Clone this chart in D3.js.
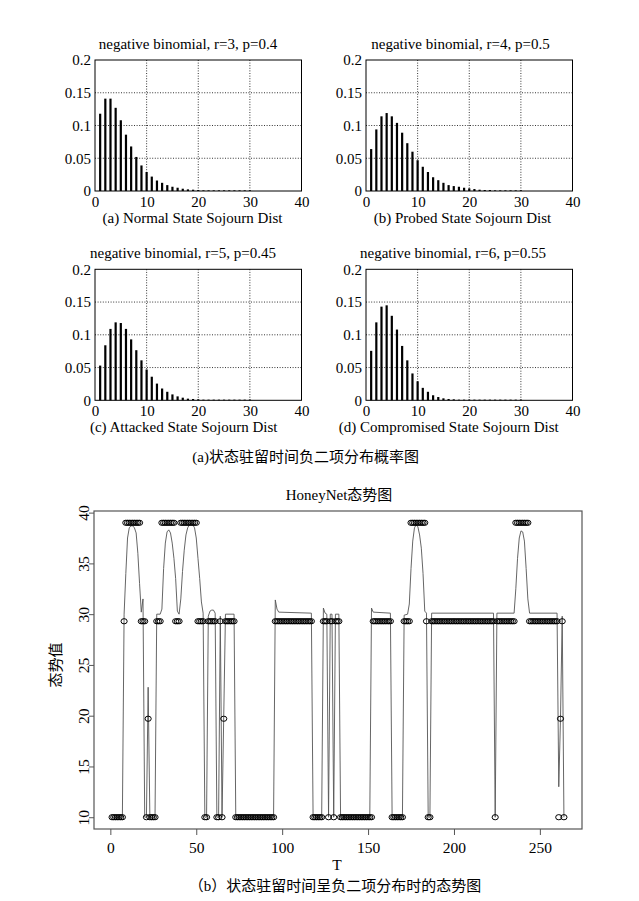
<!DOCTYPE html>
<html>
<head>
<meta charset="utf-8">
<script src="https://cdn.jsdelivr.net/npm/d3@7/dist/d3.min.js"></script>
<style>
    body { margin: 0; background: #fff; }
    text { font-family: "Liberation Serif", "Noto Sans CJK SC", serif; fill: #000; }
</style>
</head>
<body>
<script>
//sojourn distribution panels
var distTitles = ["negative binomial, r=3, p=0.4", "negative binomial, r=4, p=0.5",
    "negative binomial, r=5, p=0.45", "negative binomial, r=6, p=0.55"];
var distCaptions = ["(a) Normal State Sojourn Dist", "(b) Probed State Sojourn Dist",
    "(c) Attacked State Sojourn Dist", "(d) Compromised State Sojourn Dist"];
var distXTicks = [0, 10, 20, 30, 40];
var distYTicks = [0, 0.05, 0.1, 0.15, 0.2];
var distYLabels = ["0", "0.05", "0.1", "0.15", "0.2"];
var distGridX = [10, 20, 30];
var distGridY = [0.05, 0.1, 0.15];

//probability, k = 1..30
var probNormal = [0.118, 0.141, 0.141, 0.127, 0.108, 0.086, 0.068, 0.052, 0.039, 0.029,
    0.022, 0.016, 0.0125, 0.009, 0.0065, 0.005, 0.0035, 0.0025, 0.002, 0.0015,
    0.001, 0.001, 0.001, 0.001, 0.001, 0.001, 0.001, 0.001, 0.001, 0.001];
var probProbed = [0.064, 0.094, 0.114, 0.119, 0.114, 0.104, 0.089, 0.073, 0.060, 0.047,
    0.037, 0.029, 0.021, 0.0165, 0.0125, 0.009, 0.0075, 0.0065, 0.005, 0.004,
    0.003, 0.002, 0.0015, 0.0015, 0.001, 0.001, 0.001, 0.001, 0.001, 0.001];
var probAttacked = [0.053, 0.084, 0.109, 0.119, 0.118, 0.109, 0.093, 0.0765, 0.061, 0.047,
    0.036, 0.0255, 0.018, 0.013, 0.009, 0.006, 0.004, 0.0025, 0.002, 0.0015,
    0.001, 0.001, 0.001, 0.001, 0.001, 0.001, 0.001, 0.001, 0.001, 0.001];
var probCompromised = [0.0755, 0.119, 0.143, 0.145, 0.129, 0.108, 0.083, 0.061, 0.041, 0.029,
    0.019, 0.013, 0.0077, 0.005, 0.003, 0.002, 0.0015, 0.001, 0.001, 0.001,
    0.001, 0.001, 0.001, 0.001, 0.001, 0.001, 0.001, 0.001, 0.001, 0.001];

//HoneyNet situation chart
var stateLevels = [10, 19.7, 29.3, 39];
//state code (1..4) for T = 1..264
var stateSeq = [
    1,1,1,1,1,1,1,3,4,4, 4,4,4,4,4,4,4,3,3,3,
    1,2,1,1,1,1,3,3,3,4, 4,4,4,4,4,4,4,3,3,3,
    4,4,4,4,4,4,4,4,4,4, 3,3,3,3,1,1,3,3,3,3,
    3,1,1,3,1,2,3,3,3,3, 3,3,1,1,1,1,1,1,1,1,
    1,1,1,1,1,1,1,1,1,1, 1,1,1,1,1,3,3,3,3,3,
    3,3,3,3,3,3,3,3,3,3, 3,3,3,3,3,3,3,1,1,1,
    1,1,1,3,3,3,1,3,3,1, 3,3,3,1,1,1,1,1,1,1,
    1,1,1,1,1,1,1,1,1,1, 1,1,3,3,3,3,3,3,3,3,
    3,3,3,1,1,1,1,1,1,1, 3,3,3,3,4,4,4,4,4,4,
    4,4,4,3,1,1,3,3,3,3, 3,3,3,3,3,3,3,3,3,3,
    3,3,3,3,3,3,3,3,3,3, 3,3,3,3,3,3,3,3,3,3,
    3,3,3,1,3,3,3,3,3,3, 3,3,3,3,3,4,4,4,4,4,
    4,4,4,3,3,3,3,3,3,3, 3,3,3,3,3,3,3,3,3,3,
    1,2,3,1];
//estimated situation curve, [T, value]
var situationLine = [
    [1,10],[7,10],[8,30],[9,34],[10,37.5],[11,38.5],[12,38.7],[13,38.7],[14,38.5],[15,38],
    [16,36],[17,33],[18,30.2],[19,31.5],[20,10],[21,10],[22,22.8],[23,10],[26,10],[27,30],
    [29,30],[30,30.5],[31,34.5],[32,37],[33,38.1],[34,38.3],[35,38],[36,37],[37,35.5],[38,33.5],
    [39,30.3],[40,30],[41,31.5],[42,34.2],[43,36.3],[44,37.8],[45,38.5],[46,38.8],[47,38.9],[48,38.8],
    [49,38.5],[50,37.5],[51,35.5],[52,33.5],[53,31.2],[54,30.1],[55,10],[56,10],[57,29.8],[58,30.3],
    [59,30.4],[60,30.4],[61,30.1],[62,10],[63,10],[64,29.8],[65,10],[66,20],[67,30],[72,30],
    [73,10],[95,10],[96,31.4],[97,30.5],[98,30.2],[117,30.1],[118,10],[123,10],[124,30.6],[125,30.1],
    [126,30],[127,10],[128,30],[129,30],[130,10],[131,30],[133,30],[134,10],[151,10],[152,30.6],
    [153,30.2],[163,30.1],[164,10],[170,10],[171,29.9],[173,30],[174,31],[175,34.5],[176,37.2],[177,38.5],
    [178,38.8],[179,38.6],[180,37.8],[181,36.5],[182,34],[183,30.3],[184,30.1],[185,10],[186,10],[187,30.1],
    [223,30.1],[224,10],[225,30.1],[235,30.1],[236,32.5],[237,35.5],[238,37.5],[239,38.2],[240,38.1],[241,37.2],
    [242,34.5],[243,31.5],[244,30.1],[260,30.1],[261,13],[262,19.7],[263,29.8],[264,10]];
var situationXTicks = [0, 50, 100, 150, 200, 250];
var situationYTicks = [10, 15, 20, 25, 30, 35, 40];
var situationTitle = "HoneyNet态势图";
var situationXLabel = "T";
var situationYLabel = "态势值";
var figCaptionA = "(a)状态驻留时间负二项分布概率图";
var figCaptionB = "（b）状态驻留时间呈负二项分布时的态势图";

window.onload = drawAll();

function drawAll() {
    var width = 639,
        height = 901;

    var svg = d3.select("body")
        .append("svg")
        .attr("width", width)
        .attr("height", height);

    var probs = [probNormal, probProbed, probAttacked, probCompromised];
    var lefts = [95, 366, 95, 366],
        tops = [60, 60, 269.3, 269.3],
        titleX = [188, 460.5, 183, 453],
        captionX = [192.5, 462.5, 183.7, 448.8];

    for (var i = 0; i < 4; i++) {
        drawDist(svg, lefts[i], tops[i], probs[i], distTitles[i], titleX[i], distCaptions[i], captionX[i]);
    }

    svg.append("text")
        .attr("x", 305.7)
        .attr("y", 462)
        .attr("text-anchor", "middle")
        .attr("font-size", 15)
        .text(figCaptionA);

    drawSituation(svg);
}

function drawDist(svg, left, top, probs, title, tx, caption, cx) {
    var w = 206.5,
        h = 131;

    var x = d3.scaleLinear().domain([0, 40]).range([left, left + w]);
    var y = d3.scaleLinear().domain([0, 0.2]).range([top + h, top]);

    var g = svg.append("g");

    //dotted grid
    g.selectAll(".gx")
        .data(distGridX)
        .enter()
        .append("line")
        .attr("x1", function(d){ return x(d); })
        .attr("x2", function(d){ return x(d); })
        .attr("y1", y(0))
        .attr("y2", y(0.2))
        .attr("stroke", "#000")
        .attr("stroke-width", 0.8)
        .attr("stroke-dasharray", "1,1.6");
    g.selectAll(".gy")
        .data(distGridY)
        .enter()
        .append("line")
        .attr("x1", x(0))
        .attr("x2", x(40))
        .attr("y1", function(d){ return y(d); })
        .attr("y2", function(d){ return y(d); })
        .attr("stroke", "#000")
        .attr("stroke-width", 0.8)
        .attr("stroke-dasharray", "1,1.6");

    //bars
    g.selectAll(".bar")
        .data(probs)
        .enter()
        .append("rect")
        .attr("x", function(d, j){ return x(j + 1) - 1.1; })
        .attr("width", 2.2)
        .attr("y", function(d){ return y(d); })
        .attr("height", function(d){ return y(0) - y(d); })
        .attr("fill", "#000");

    //frame
    g.append("rect")
        .attr("x", left)
        .attr("y", top)
        .attr("width", w)
        .attr("height", h)
        .attr("fill", "none")
        .attr("stroke", "#000")
        .attr("stroke-width", 1);

    //axes
    var xa = g.append("g")
        .attr("transform", "translate(0," + (top + h) + ")")
        .call(d3.axisBottom(x).tickValues(distXTicks).tickSize(0).tickPadding(5));
    xa.select(".domain").remove();
    xa.attr("font-size", 15).attr("font-family", null);

    var ya = g.append("g")
        .attr("transform", "translate(" + left + ",0)")
        .call(d3.axisLeft(y).tickValues(distYTicks).tickSize(0).tickPadding(4)
            .tickFormat(function(d, j){ return distYLabels[j]; }));
    ya.select(".domain").remove();
    ya.attr("font-size", 15).attr("font-family", null);

    g.append("text")
        .attr("x", tx)
        .attr("y", top - 11)
        .attr("text-anchor", "middle")
        .attr("font-size", 15)
        .text(title);

    g.append("text")
        .attr("x", cx)
        .attr("y", top + h + 31.5)
        .attr("text-anchor", "middle")
        .attr("font-size", 15)
        .text(caption);
}

function drawSituation(svg) {
    var left = 94, right = 582, top = 511, bottom = 829;

    var x = d3.scaleLinear().domain([-9.52, 274.52]).range([left, right]);
    var y = d3.scaleLinear().domain([8.84, 40.16]).range([bottom, top]);

    var g = svg.append("g");

    //curve
    var line = d3.line()
        .x(function(d){ return x(d[0]); })
        .y(function(d){ return y(d[1]); });
    g.append("path")
        .datum(situationLine)
        .attr("d", line)
        .attr("fill", "none")
        .attr("stroke", "#555")
        .attr("stroke-width", 0.9);

    //state points
    var pts = stateSeq.map(function(s, i){ return { t: i + 1, v: stateLevels[s - 1] }; });
    g.selectAll(".pt")
        .data(pts)
        .enter()
        .append("ellipse")
        .attr("cx", function(d){ return x(d.t); })
        .attr("cy", function(d){ return y(d.v); })
        .attr("rx", 3.1)
        .attr("ry", 2.6)
        .attr("fill", "none")
        .attr("stroke", "#000")
        .attr("stroke-width", 1);

    //frame
    g.append("rect")
        .attr("x", left)
        .attr("y", top)
        .attr("width", right - left)
        .attr("height", bottom - top)
        .attr("fill", "none")
        .attr("stroke", "#555")
        .attr("stroke-width", 1.2);

    var xa = g.append("g")
        .attr("transform", "translate(0," + bottom + ")")
        .call(d3.axisBottom(x).tickValues(situationXTicks).tickSize(6).tickPadding(7));
    xa.select(".domain").remove();
    xa.attr("font-size", 15.5).attr("font-family", null);
    xa.selectAll("line").attr("stroke", "#555");

    var ya = g.append("g")
        .attr("transform", "translate(" + left + ",0)")
        .call(d3.axisLeft(y).tickValues(situationYTicks).tickSize(5));
    ya.select(".domain").remove();
    ya.attr("font-size", 15.5).attr("font-family", null);
    ya.selectAll("line").attr("stroke", "#555");
    ya.selectAll("text")
        .attr("transform", "rotate(-90)")
        .attr("x", 0)
        .attr("y", -5.5)
        .attr("dy", 0)
        .attr("text-anchor", "middle");

    svg.append("text")
        .attr("x", 339)
        .attr("y", 500)
        .attr("text-anchor", "middle")
        .attr("font-size", 15)
        .text(situationTitle);

    svg.append("text")
        .attr("x", 337)
        .attr("y", 870)
        .attr("text-anchor", "middle")
        .attr("font-size", 15.5)
        .text(situationXLabel);

    svg.append("text")
        .attr("transform", "translate(61,665) rotate(-90)")
        .attr("text-anchor", "middle")
        .attr("font-size", 15)
        .text(situationYLabel);

    svg.append("text")
        .attr("x", 335)
        .attr("y", 891)
        .attr("text-anchor", "middle")
        .attr("font-size", 15)
        .text(figCaptionB);
}
</script>
</body>
</html>
